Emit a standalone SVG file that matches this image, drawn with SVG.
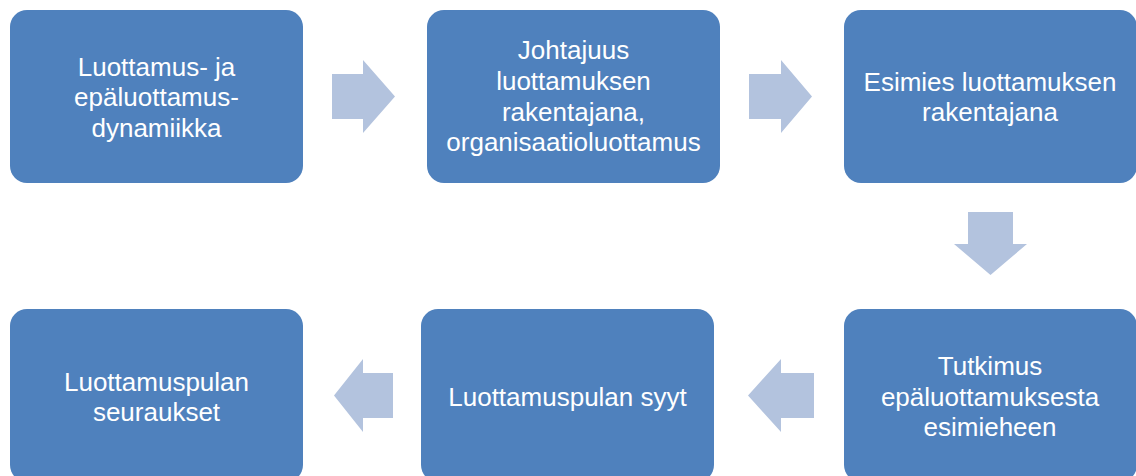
<svg xmlns="http://www.w3.org/2000/svg" width="1136" height="476" viewBox="0 0 1136 476">
<style>
.box{fill:#4F81BD;}
.arr{fill:#B3C3DE;}
.t{font-family:"Liberation Sans",Arial,sans-serif;font-size:26px;fill:#FFFFFF;text-anchor:middle;}
</style>
<rect width="1136" height="476" fill="#FFFFFF"/>
<g id="connectors">
<polygon class="arr" points="332,74 363,74 363,60 395,96.5 363,133 363,119 332,119"/>
<polygon class="arr" points="749,74 781,74 781,60 812,96.5 781,133 781,119 749,119"/>
<polygon class="arr" points="968,212 1013,212 1013,244 1027,244 990.5,275 954,244 968,244"/>
<polygon class="arr" points="814,373 781,373 781,359 748,395.5 781,432 781,418 814,418"/>
<polygon class="arr" points="393,373 363,373 363,359 334,395.5 363,432 363,418 393,418"/>
</g>
<g id="node1">
<rect class="box" x="10" y="10" width="293" height="173" rx="17"/>
<text class="t"><tspan x="156.5" y="75.5">Luottamus- ja</tspan><tspan x="156.5" y="106">epäluottamus-</tspan><tspan x="156.5" y="136.5">dynamiikka</tspan></text>
</g>
<g id="node2">
<rect class="box" x="427" y="10" width="293" height="173" rx="17"/>
<text class="t"><tspan x="573.5" y="59">Johtajuus</tspan><tspan x="573.5" y="90">luottamuksen</tspan><tspan x="573.5" y="121">rakentajana,</tspan><tspan x="573.5" y="151">organisaatioluottamus</tspan></text>
</g>
<g id="node3">
<rect class="box" x="844" y="10" width="293" height="173" rx="17"/>
<text class="t"><tspan x="990" y="90.5">Esimies luottamuksen</tspan><tspan x="990" y="121">rakentajana</tspan></text>
</g>
<g id="node4">
<rect class="box" x="844" y="309" width="293" height="173" rx="17"/>
<text class="t"><tspan x="990" y="375">Tutkimus</tspan><tspan x="990" y="405.5">epäluottamuksesta</tspan><tspan x="990" y="436">esimieheen</tspan></text>
</g>
<g id="node5">
<rect class="box" x="421" y="309" width="293" height="173" rx="17"/>
<text class="t" x="567.5" y="405.5">Luottamuspulan syyt</text>
</g>
<g id="node6">
<rect class="box" x="10" y="309" width="293" height="173" rx="17"/>
<text class="t"><tspan x="156.5" y="390.5">Luottamuspulan</tspan><tspan x="156.5" y="421">seuraukset</tspan></text>
</g>
</svg>
